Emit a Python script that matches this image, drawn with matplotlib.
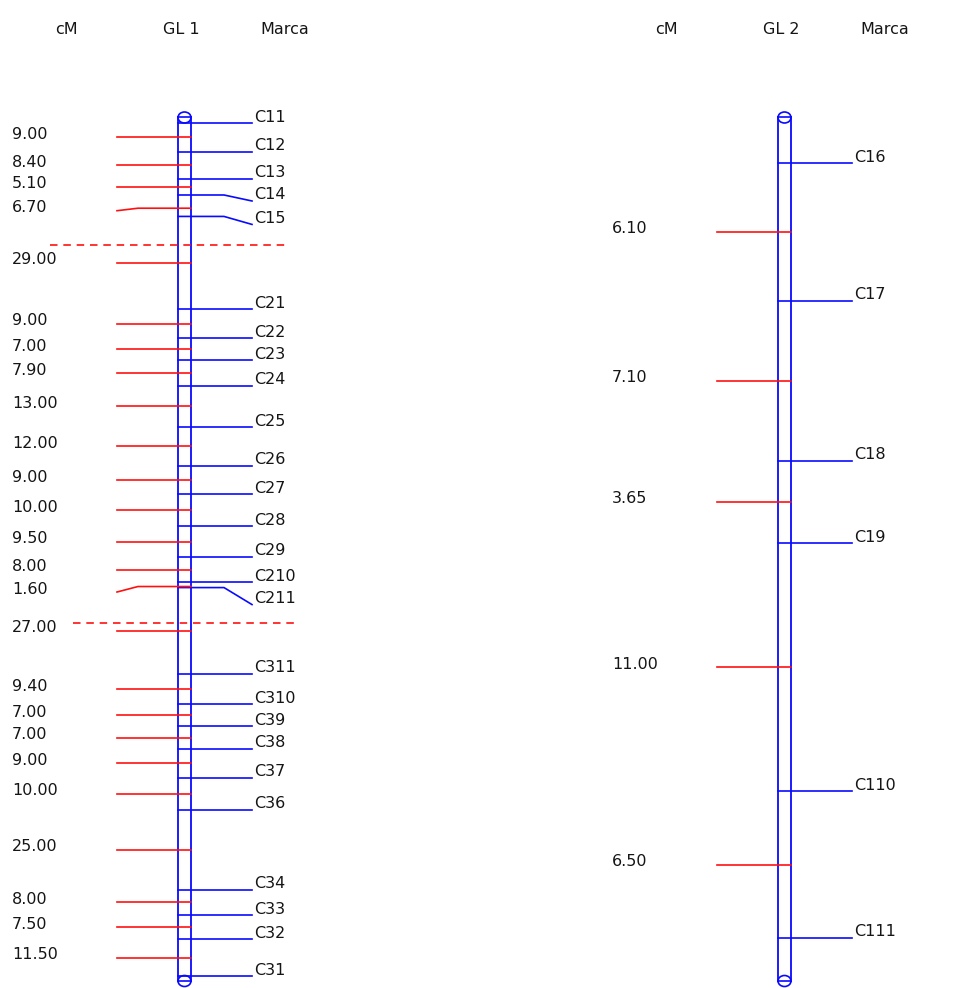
import numpy as np
import matplotlib.pyplot as plt
from matplotlib.patches import Ellipse

plt.rcParams["font.family"] = ["DejaVu Sans"]

# Linkage group 1: markers from top to bottom and the distances (cM) between neighbours
gl1_markers = ["C11", "C12", "C13", "C14", "C15",
               "C21", "C22", "C23", "C24", "C25", "C26", "C27", "C28", "C29", "C210", "C211",
               "C311", "C310", "C39", "C38", "C37", "C36", "C34", "C33", "C32", "C31"]
gl1_intervals = [9.00, 8.40, 5.10, 6.70,
                 29.00,
                 9.00, 7.00, 7.90, 13.00, 12.00, 9.00, 10.00, 9.50, 8.00, 1.60,
                 27.00,
                 9.40, 7.00, 7.00, 9.00, 10.00, 25.00, 8.00, 7.50, 11.50]
gl1_breaks = [4, 15]   # intervals joining sub-groups

# Linkage group 2
gl2_markers = ["C16", "C17", "C18", "C19", "C110", "C111"]
gl2_intervals = [6.10, 7.10, 3.65, 11.00, 6.50]
gl2_breaks = []

W, H = 970, 988
BLUE = "#0a0aff"
RED = "#ff1010"
TXT = "#151515"
FS = 11.5

fig = plt.figure(figsize=(W / 100, H / 100), dpi=100)
fig.patch.set_facecolor("white")


def draw_group(title, markers, intervals, breaks, x0, top_px, bottom_px,
               label_shift=None, red_shift=None, break_style=None):
    label_shift = label_shift or {}
    red_shift = red_shift or {}
    break_style = break_style or {}

    pos = np.concatenate([[0.0], np.cumsum(intervals)])
    ppc = (bottom_px - top_px) / pos[-1]          # pixels per cM

    def px(p):
        return (p - top_px) / ppc

    ax = fig.add_axes([0, 0, 1, 1])
    ax.set_xlim(0, W)
    ax.set_ylim(px(H), px(0))
    ax.axis("off")
    ax.patch.set_alpha(0)

    bw = 13
    # chromosome bar with rounded ends
    for xb in (x0, x0 + bw):
        ax.plot([xb, xb], [px(117.5), px(981)], color=BLUE, lw=1.3)
    for yc in (117.5, 981):
        ax.add_patch(Ellipse((x0 + bw / 2, px(yc)), bw, 11 / ppc,
                             fill=False, edgecolor=BLUE, lw=1.2))
        ax.plot([x0, x0 + bw], [px(yc), px(yc)], color=BLUE, lw=1.2)

    # markers on the right
    for i, m in enumerate(markers):
        y = pos[i]
        dy = label_shift.get(m, 0) / ppc
        if dy:
            ax.plot([x0, x0 + 46, x0 + 74], [y, y, y + dy], color=BLUE, lw=1.2)
        else:
            ax.plot([x0, x0 + 74], [y, y], color=BLUE, lw=1.2)
        ax.text(x0 + 76, y + dy - 1.5 / ppc, m, ha="left", va="baseline",
                fontsize=FS, color=TXT)

    # distances on the left
    for j, d in enumerate(intervals):
        mid = (pos[j] + pos[j + 1]) / 2
        bar_dy, left_dy = red_shift.get(j, (0, 0))
        yb = mid + bar_dy / ppc
        yl = mid + left_dy / ppc
        if left_dy != bar_dy:
            ax.plot([x0 - 61, x0 - 40, x0 + bw], [yl, yb, yb], color=RED, lw=1.2)
        else:
            ax.plot([x0 - 61, x0 + bw], [yb, yb], color=RED, lw=1.2)
        ax.text(x0 - 166, yl - 3 / ppc, f"{d:.2f}", ha="left", va="center",
                fontsize=FS, color=TXT)
        if j in breaks:
            lift, xa, xb2 = break_style[j]
            yd = mid - lift / ppc
            ax.plot([x0 + xa, x0 + xb2], [yd, yd], color=RED, lw=1.2,
                    dashes=(4.5, 3.5))

    # column headings
    for dx, s in ((-112, "cM"), (3, title), (107, "Marca")):
        fig.text((x0 + dx) / W, 1 - 29 / H, s, ha="center", va="center",
                 fontsize=FS, color=TXT)


draw_group("GL 1", gl1_markers, gl1_intervals, gl1_breaks, 178, 123, 976,
           label_shift={"C14": 6, "C15": 8, "C211": 17},
           red_shift={3: (2.5, 5), 14: (1.5, 7)},
           break_style={4: (18, -128, 109), 15: (8, -105, 119)})

draw_group("GL 2", gl2_markers, gl2_intervals, gl2_breaks, 778, 163, 938)

fig.savefig("out.png", dpi=100, facecolor="white")
